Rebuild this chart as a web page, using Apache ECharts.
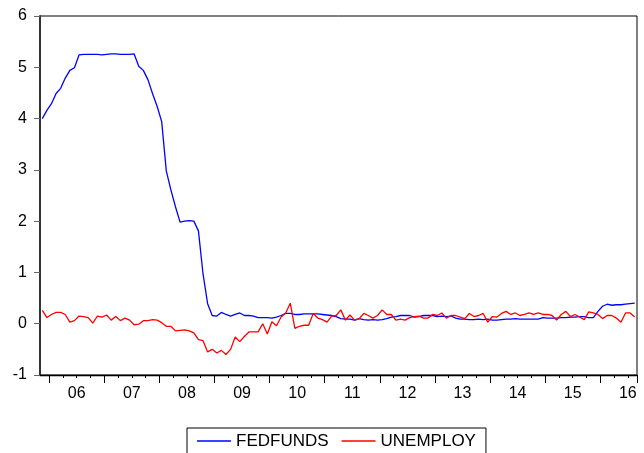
<!DOCTYPE html>
<html>
<head>
<meta charset="utf-8">
<script src="https://cdn.jsdelivr.net/npm/echarts@6/dist/echarts.min.js"></script>
<style>
  html, body { margin: 0; padding: 0; background: #fff; }
  #chart { width: 644px; height: 453px; }
</style>
</head>
<body>
<div id="chart"></div>
<script>
// Monthly series, first observation 2005-11
const startYear = 2005;
const startMonth = 11;

const fedfunds = [
  4.00, 4.16,
  4.29, 4.49, 4.59, 4.79, 4.94, 4.99, 5.24, 5.25, 5.25, 5.25, 5.25, 5.24,
  5.25, 5.26, 5.26, 5.25, 5.25, 5.25, 5.26, 5.02, 4.94, 4.76, 4.49, 4.24,
  3.94, 2.98, 2.61, 2.28, 1.98, 2.00, 2.01, 2.00, 1.81, 0.97, 0.39, 0.16,
  0.15, 0.22, 0.18, 0.15, 0.18, 0.21, 0.16, 0.16, 0.15, 0.12, 0.12, 0.12,
  0.11, 0.13, 0.16, 0.20, 0.20, 0.18, 0.18, 0.19, 0.19, 0.19, 0.19, 0.18,
  0.17, 0.16, 0.14, 0.10, 0.09, 0.09, 0.07, 0.10, 0.08, 0.07, 0.08, 0.07,
  0.08, 0.10, 0.13, 0.14, 0.16, 0.16, 0.16, 0.13, 0.14, 0.16, 0.16, 0.16,
  0.14, 0.15, 0.14, 0.15, 0.11, 0.09, 0.09, 0.08, 0.08, 0.09, 0.08, 0.09,
  0.07, 0.07, 0.08, 0.09, 0.09, 0.10, 0.09, 0.09, 0.09, 0.09, 0.09, 0.12,
  0.11, 0.11, 0.11, 0.12, 0.12, 0.13, 0.13, 0.14, 0.14, 0.12, 0.12, 0.24,
  0.34, 0.38, 0.36, 0.37, 0.37, 0.38, 0.39, 0.40
];

const unemploy = [
  0.26, 0.12,
  0.18, 0.22, 0.22, 0.18, 0.03, 0.06, 0.15, 0.14, 0.12, 0.01, 0.15, 0.13,
  0.17, 0.07, 0.14, 0.06, 0.11, 0.07, -0.02, -0.01, 0.06, 0.06, 0.08, 0.07,
  0.02, -0.05, -0.05, -0.14, -0.13, -0.12, -0.14, -0.18, -0.31, -0.33, -0.55, -0.50,
  -0.57, -0.52, -0.60, -0.50, -0.26, -0.35, -0.25, -0.16, -0.16, -0.16, 0.00, -0.20,
  0.04, -0.04, 0.13, 0.21, 0.40, -0.09, -0.05, -0.03, -0.03, 0.20, 0.11, 0.08,
  0.03, 0.15, 0.16, 0.27, 0.07, 0.17, 0.07, 0.10, 0.20, 0.16, 0.11, 0.16,
  0.27, 0.18, 0.18, 0.07, 0.09, 0.07, 0.12, 0.14, 0.15, 0.11, 0.11, 0.18,
  0.16, 0.21, 0.11, 0.16, 0.16, 0.13, 0.10, 0.20, 0.14, 0.16, 0.20, 0.03,
  0.14, 0.13, 0.20, 0.24, 0.18, 0.21, 0.16, 0.18, 0.21, 0.18, 0.21, 0.18,
  0.18, 0.16, 0.07, 0.18, 0.24, 0.14, 0.18, 0.13, 0.08, 0.23, 0.21, 0.18,
  0.10, 0.16, 0.16, 0.11, 0.03, 0.21, 0.21, 0.13
];

const yearLabels = ['06', '07', '08', '09', '10', '11', '12', '13', '14', '15', '16'];
const firstLabelYear = 2006;

// Month categories "YYYY-MM"
const months = [];
for (let k = 0; k < fedfunds.length; k++) {
  const m0 = startMonth - 1 + k;
  const y = startYear + Math.floor(m0 / 12);
  const m = (m0 % 12) + 1;
  months.push(y + '-' + String(m).padStart(2, '0'));
}
const monthOf = (s) => parseInt(s.slice(5), 10);
const yearOf = (s) => parseInt(s.slice(0, 4), 10);

const FONT = 'Liberation Sans, Arial, sans-serif';

const chart = echarts.init(document.getElementById('chart'), null, { renderer: 'canvas' });

chart.setOption({
  animation: false,
  backgroundColor: '#ffffff',
  grid: {
    left: 40, right: 7, top: 16, bottom: 78,
    show: true,
    borderColor: '#000',
    borderWidth: 1,
    backgroundColor: 'transparent'
  },
  legend: {
    left: 187,
    top: 428,
    orient: 'horizontal',
    data: ['FEDFUNDS', 'UNEMPLOY'],
    icon: 'rect',
    itemWidth: 34,
    itemHeight: 1.3,
    itemGap: 13,
    padding: [4, 10, 30, 10],
    borderColor: '#000',
    borderWidth: 1,
    textStyle: { fontFamily: FONT, fontSize: 17, color: '#000', lineHeight: 18 }
  },
  xAxis: [
    {
      // quarterly ticks and year labels
      type: 'category',
      data: months,
      boundaryGap: true,
      position: 'bottom',
      axisLine: { show: true, onZero: false, lineStyle: { color: '#000', width: 1.3 } },
      axisTick: {
        show: true,
        length: 3,
        interval: (idx, val) => [1, 4, 7, 10].includes(monthOf(val)),
        lineStyle: { color: '#000', width: 1 }
      },
      axisLabel: {
        show: true,
        interval: (idx, val) => monthOf(val) === 7,
        formatter: (val) => yearLabels[yearOf(val) - firstLabelYear],
        margin: 11,
        padding: [0, 4.6, 0, 0],
        fontFamily: FONT,
        fontSize: 16,
        color: '#000'
      },
      splitLine: { show: false }
    },
    {
      // longer ticks at the start of each year
      type: 'category',
      data: months,
      boundaryGap: true,
      position: 'bottom',
      axisLine: { show: false, onZero: false },
      axisTick: {
        show: true,
        length: 8,
        interval: (idx, val) => monthOf(val) === 1,
        lineStyle: { color: '#000', width: 1 }
      },
      axisLabel: { show: false },
      splitLine: { show: false }
    }
  ],
  yAxis: {
    type: 'value',
    min: -1,
    max: 6,
    interval: 1,
    axisLine: { show: true, onZero: false, lineStyle: { color: '#333', width: 2 } },
    axisTick: { show: true, length: 6, lineStyle: { color: '#666', width: 1 } },
    axisLabel: { margin: 13, fontFamily: FONT, fontSize: 16, color: '#000' },
    splitLine: { show: false }
  },
  series: [
    {
      name: 'FEDFUNDS',
      type: 'line',
      data: fedfunds,
      xAxisIndex: 0,
      symbol: 'none',
      color: '#0000ff',
      lineStyle: { color: '#0000ff', width: 1.3 }
    },
    {
      name: 'UNEMPLOY',
      type: 'line',
      data: unemploy,
      xAxisIndex: 0,
      symbol: 'none',
      color: '#ff0000',
      lineStyle: { color: '#ff0000', width: 1.3 }
    }
  ]
});
</script>
</body>
</html>
